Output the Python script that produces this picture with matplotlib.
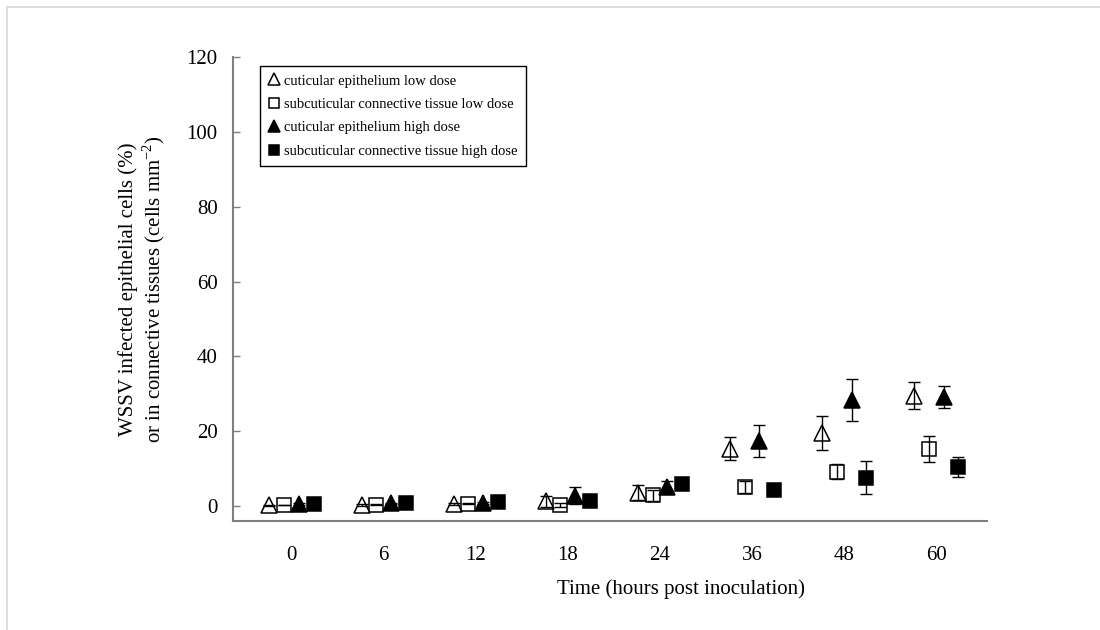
import numpy as np
import matplotlib
matplotlib.use('Agg')
import matplotlib.pyplot as plt
from matplotlib.lines import Line2D

plt.rcParams['font.family'] = 'Liberation Serif'
plt.rcParams['mathtext.fontset'] = 'custom'
plt.rcParams['mathtext.rm'] = 'Liberation Serif'

# Time points (hours post inoculation)
times = ['0', '6', '12', '18', '24', '36', '48', '60']

# cuticular epithelium, low dose (%)
epi_low = [0.2, 0.3, 0.5, 1.3, 3.5, 15.3, 19.5, 29.5]
epi_low_err = [0.2, 0.2, 0.3, 1.5, 2.0, 3.1, 4.5, 3.7]
# subcuticular connective tissue, low dose (cells mm-2)
con_low = [0.3, 0.4, 0.6, 0.3, 2.9, 5.1, 9.1, 15.3]
con_low_err = [0.1, 0.1, 0.1, 0.5, 1.5, 1.7, 2.0, 3.5]
# cuticular epithelium, high dose (%)
epi_high = [0.5, 0.7, 0.9, 2.8, 5.1, 17.4, 28.3, 29.2]
epi_high_err = [0.2, 0.2, 0.3, 2.3, 1.6, 4.3, 5.7, 2.9]
# subcuticular connective tissue, high dose (cells mm-2)
con_high = [0.6, 0.8, 1.1, 1.3, 6.0, 4.4, 7.6, 10.5]
con_high_err = [0.1, 0.1, 0.1, 0.3, 0.5, 0.3, 4.4, 2.7]

series = [
    ('cuticular epithelium low dose', epi_low, epi_low_err, '^', 'none'),
    ('subcuticular connective tissue low dose', con_low, con_low_err, 's', 'none'),
    ('cuticular epithelium high dose', epi_high, epi_high_err, '^', 'black'),
    ('subcuticular connective tissue high dose', con_high, con_high_err, 's', 'black'),
]
offsets = [-0.24, -0.08, 0.08, 0.24]

fig = plt.figure(figsize=(11, 6.3), dpi=100)
ax = fig.add_axes([233 / 1100, 1 - 521 / 630, (987 - 233) / 1100, (521 - 57) / 630])

x = np.arange(len(times))
for (label, vals, errs, marker, face), off in zip(series, offsets):
    ms = 11 if marker == '^' else 9.5
    ax.errorbar(x + off, vals, yerr=errs, fmt='none', ecolor='black',
                elinewidth=1, capsize=4.5, capthick=1, zorder=2)
    ax.plot(x + off, vals, linestyle='none', marker=marker, markersize=ms,
            markerfacecolor=face, markeredgecolor='black', markeredgewidth=1.1,
            label=label, zorder=3)

ax.set_xlim(-0.635, 7.55)
ax.set_ylim(-4.0, 120)
ax.set_xticks(x)
ax.set_xticklabels(times)
ax.set_yticks(np.arange(0, 121, 20))

for side in ['top', 'right']:
    ax.spines[side].set_visible(False)
for side in ['left', 'bottom']:
    ax.spines[side].set_color('#7f7f7f')
    ax.spines[side].set_linewidth(1.5)

ax.tick_params(axis='y', direction='in', length=5, width=1, color='#7f7f7f',
               labelsize=15, pad=11)
ax.tick_params(axis='x', length=0, labelsize=15, pad=18)

ax.set_xlabel('Time (hours post inoculation)', fontsize=15)
ax.xaxis.set_label_coords(0.594, -0.125)
ax.set_ylabel('WSSV infected epithelial cells (%)\nor in connective tissues (cells mm$^{-2}$)',
              fontsize=15, labelpad=14, linespacing=1.15)

leg = ax.legend(loc='upper left', bbox_to_anchor=(0.036, 0.98), borderaxespad=0,
                fontsize=10.5, frameon=True, fancybox=False, framealpha=1,
                edgecolor='black', handlelength=0.8, handletextpad=0.3,
                labelspacing=0.7, borderpad=0.55, markerscale=0.75)
leg.get_frame().set_linewidth(1.0)

# light frame around the picture
fig.add_artist(Line2D([7 / 1100, 1], [1 - 7 / 630, 1 - 7 / 630], color='#dcdcdc', lw=1.5))
fig.add_artist(Line2D([7 / 1100, 7 / 1100], [0, 1 - 7 / 630], color='#dcdcdc', lw=1.5))

fig.savefig('out.png', dpi=100, facecolor='white')
